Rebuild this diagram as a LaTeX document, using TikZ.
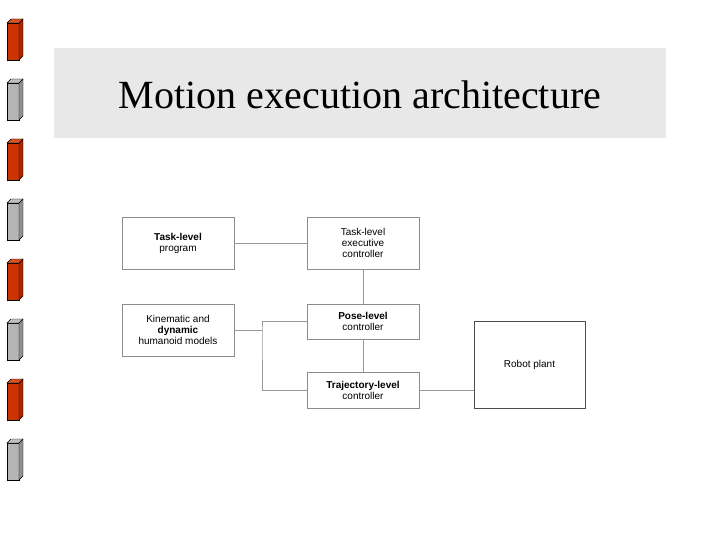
\documentclass[tikz,border=0pt]{standalone}
\usepackage{fontspec}
\setmainfont{Liberation Serif}
\newfontfamily\boxfont{Liberation Sans}
\usetikzlibrary{positioning}
\definecolor{barred}{RGB}{204,51,0}
\definecolor{bargray}{RGB}{180,180,180}
\definecolor{band}{RGB}{232,232,232}
\tikzset{
  block/.style={draw=black!45, line width=0.6pt, fill=white, align=center,
    font=\boxfont\fontsize{10}{11}\selectfont, inner sep=0pt},
  link/.style={draw=black!40, line width=0.6pt}
}
\begin{document}
\begin{tikzpicture}[x=1pt,y=-1pt]
  \useasboundingbox (0,0) rectangle (720,540);
  % side bars
  \foreach \i in {0,...,7} {
    \pgfmathsetmacro{\yt}{23+60*\i}
    \ifodd\i \def\bc{bargray}\else\def\bc{barred}\fi
    \draw[fill=\bc] (7,\yt) rectangle (19,\yt+37);
    \draw[fill=\bc!80!black] (19,\yt) -- (23,\yt-4) -- (23,\yt+33) -- (19,\yt+37) -- cycle;
    \draw[fill=\bc!85!white] (7,\yt) -- (11,\yt-4) -- (23,\yt-4) -- (19,\yt) -- cycle;
  }
  % title band
  \fill[band] (54,48) rectangle (666,138);
  \node[font=\fontsize{40}{44}\selectfont] (title) at (360,95) {Motion execution architecture};
  % blocks
  \node[block, minimum width=112pt, minimum height=52pt] (tlp) at (178,243) {\textbf{Task-level}\\program};
  \node[block, minimum width=112pt, minimum height=52pt] (tle) at (363,243) {Task-level\\executive\\controller};
  \node[block, minimum width=112pt, minimum height=52pt] (kin) at (178,330) {Kinematic and\\\textbf{dynamic}\\humanoid models};
  \node[block, minimum width=112pt, minimum height=35pt] (pose) at (363,321.5) {\textbf{Pose-level}\\controller};
  \node[block, minimum width=112pt, minimum height=36pt] (traj) at (363,390) {\textbf{Trajectory-level}\\controller};
  \node[block, draw=black!70, minimum width=111pt, minimum height=87pt] (plant) at (529.5,364.5) {Robot plant};
  \coordinate (split) at (262,330);
  % links
  \draw[link] (tlp) -- (tle);
  \draw[link] (tle) -- (pose);
  \draw[link] (pose) -- (traj);
  \draw[link] (traj) -- (traj -| plant.west);
  \draw[link] (kin.east |- split) -- (split);
  \draw[link] (pose.west) -| (split) |- (traj.west);
\end{tikzpicture}
\end{document}
